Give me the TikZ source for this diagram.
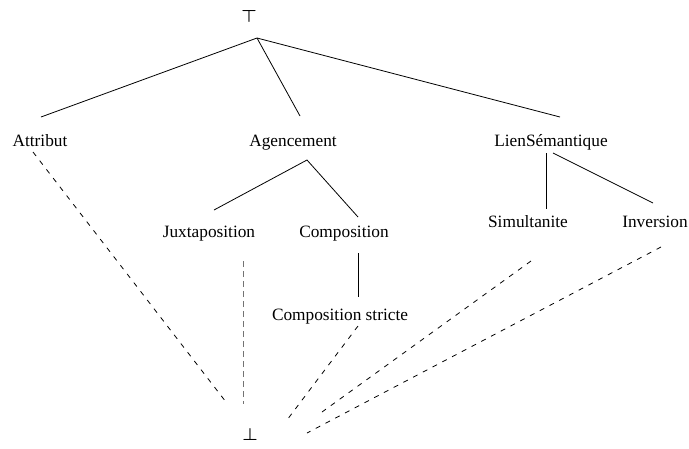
\documentclass[tikz,border=0pt]{standalone}
\usepackage{fontspec}
\usepackage{bm}
\setmainfont{Liberation Serif}
\usetikzlibrary{positioning}

\begin{document}
\begin{tikzpicture}[x=1pt,y=-1pt,line width=0.8pt,
  every node/.style={inner sep=0pt,anchor=base,font=\fontsize{17.3pt}{20pt}\selectfont},
  bound/.style={anchor=center},
  dashline/.style={dash pattern=on 5pt off 6pt},
  grayline/.style={black!55,dash pattern=on 6pt off 4pt}]
\useasboundingbox (0,0) rectangle (689,448);
% sommets
\node[bound] (top) at (249,16) {$\bm\top$};
\node[bound] (bot) at (250,434) {$\bm\bot$};
\path (257,38) coordinate (apex);
% premier niveau
\node (attribut) at (40,146) {Attribut};
\node (agencement) at (293,146) {Agencement};
\node (lien) at (551,146) {LienSémantique};
% second niveau
\node (juxta) at (209,237) {Juxtaposition};
\node (compo) at (344,237) {Composition};
\node (simul) at (528,227) {Simultanite};
\node (inv) at (655,227) {Inversion};
\node (compstr) at (340,320) {Composition stricte};
% hierarchie
\draw (apex) -- ([shift={(1,-29)}]attribut.base);
\draw (apex) -- ([shift={(7,-30)}]agencement.base);
\draw (apex) -- ([shift={(9,-29)}]lien.base);
\draw ([shift={(5,-27)}]juxta.base) -- ([shift={(14,14)}]agencement.base)
      -- ([shift={(14,-20)}]compo.base);
\draw ([shift={(14,16)}]compo.base) -- ([shift={(18,-23)}]compstr.base);
\draw ([shift={(-5,7)}]lien.base) -- ([shift={(18,-18)}]simul.base);
\draw ([shift={(2,7)}]lien.base) -- ([shift={(-2,-24)}]inv.base);
% vers le bas
\draw[dashline] ([shift={(-7,6)}]attribut.base) -- ([shift={(-24,-32)}]bot.center);
\draw[grayline] ([shift={(34,24)}]juxta.base) -- ([shift={(-7,-30)}]bot.center);
\draw[dashline] ([shift={(18,6)}]compstr.base) -- ([shift={(37,-14)}]bot.center);
\draw[dashline] ([shift={(3,34)}]simul.base) -- ([shift={(72,-22)}]bot.center);
\draw[dashline] ([shift={(6,20)}]inv.base) -- ([shift={(57,-1)}]bot.center);
\end{tikzpicture}
\end{document}
